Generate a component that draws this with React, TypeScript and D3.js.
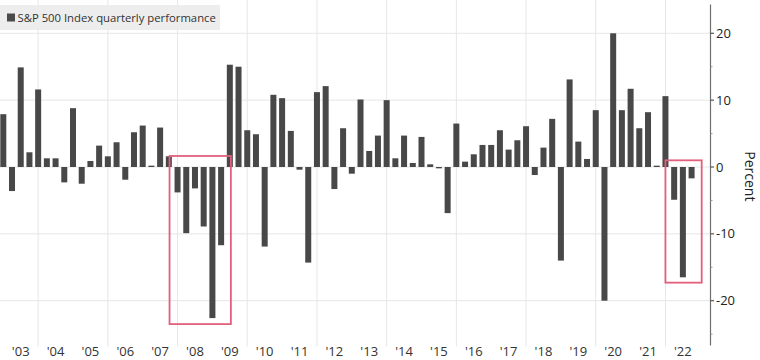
import React, { useEffect, useRef } from "react";
import * as d3 from "d3";

// Quarterly S&P 500 performance (%), from Q4 2002 through Q3 2022
const startYear = 2002;
const startQuarter = 4;
const quarterlyReturns: number[] = [
  7.9,
  -3.6, 14.9, 2.2, 11.6,
  1.3, 1.3, -2.3, 8.8,
  -2.5, 0.9, 3.2, 1.6,
  3.7, -1.9, 5.2, 6.2,
  0.2, 5.9, 1.6, -3.8,
  -9.9, -3.2, -8.9, -22.6,
  -11.7, 15.3, 15.0, 5.5,
  4.9, -11.9, 10.8, 10.3,
  5.4, -0.4, -14.3, 11.2,
  12.1, -3.3, 5.8, -1.0,
  10.1, 2.4, 4.7, 10.0,
  1.3, 4.7, 0.6, 4.5,
  0.4, -0.2, -6.9, 6.5,
  0.8, 1.9, 3.3, 3.3,
  5.5, 2.6, 4.0, 6.1,
  -1.2, 2.9, 7.2, -14.0,
  13.1, 3.8, 1.2, 8.5,
  -20.0, 20.0, 8.5, 11.7,
  5.8, 8.2, 0.2, 10.6,
  -4.9, -16.5, -1.7,
];
const yearLabels: string[] = [
  "'03", "'04", "'05", "'06", "'07", "'08", "'09", "'10", "'11", "'12",
  "'13", "'14", "'15", "'16", "'17", "'18", "'19", "'20", "'21", "'22",
];
const firstLabelYear = 2003;
const gridYears: number[] = [2004, 2006, 2008, 2010, 2012, 2014, 2016, 2018, 2020, 2022];
const majorTicks: number[] = [20, 10, 0, -10, -20];
const minorTicks: number[] = [15, 5, -5, -15, -25];
const legendLabel = "S&P 500 Index quarterly performance";
const axisTitle = "Percent";
// highlight boxes: [fromYear, toYear, topValue, bottomValue]
const highlightBoxes: [number, number, number, number][] = [
  [2007.77, 2009.53, 1.65, -23.5],
  [2022.0, 2023.04, 1.0, -17.3],
];

const W = 760;
const H = 360;
const FONT = "'Open Sans', 'Noto Sans', sans-serif";

export default function App() {
  const ref = useRef<SVGSVGElement>(null);

  useEffect(() => {
    const svg = d3.select(ref.current);
    svg.selectAll("*").remove();

    const x = d3.scaleLinear().domain([2003, 2023]).range([3.3, 700.3]);
    const y = d3.scaleLinear().domain([-20, 20]).range([300.7, 33.3]);
    const axisX = 710.5;
    const axisTop = y(24.3);
    const axisBottom = y(-26.7);

    const data = quarterlyReturns.map((v, i) => {
      const q = startQuarter - 1 + i;
      const yr = startYear + Math.floor(q / 4);
      const qn = (q % 4) + 1;
      return { t: yr + qn / 4, v };
    });

    // grid
    const grid = svg.append("g");
    grid
      .selectAll("line.v")
      .data(gridYears)
      .join("line")
      .attr("x1", (d) => x(d))
      .attr("x2", (d) => x(d))
      .attr("y1", 0)
      .attr("y2", axisBottom + 1)
      .attr("stroke", "#e6e6e6")
      .attr("stroke-width", 1);
    grid
      .selectAll("line.h")
      .data(majorTicks)
      .join("line")
      .attr("x1", 0)
      .attr("x2", axisX)
      .attr("y1", (d) => y(d))
      .attr("y2", (d) => y(d))
      .attr("stroke", "#e6e6e6")
      .attr("stroke-width", 1);

    // legend
    const lg = svg.append("g");
    lg.append("rect").attr("x", 0).attr("y", 5).attr("width", 220).attr("height", 25).attr("fill", "#ededed");
    lg.append("rect").attr("x", 7).attr("y", 13.5).attr("width", 8).attr("height", 8).attr("fill", "#4a4a4a");
    lg.append("text")
      .attr("x", 17.5)
      .attr("y", 22)
      .attr("font-family", FONT)
      .attr("font-size", 11.3)
      .attr("fill", "#333")
      .text(legendLabel);

    // bars
    const bw = 6;
    svg
      .append("g")
      .selectAll("rect")
      .data(data)
      .join("rect")
      .attr("x", (d) => x(d.t) - bw / 2)
      .attr("width", bw)
      .attr("y", (d) => Math.min(y(d.v), y(0)) - (Math.abs(y(d.v) - y(0)) < 1 ? 0.5 : 0))
      .attr("height", (d) => Math.max(1, Math.abs(y(d.v) - y(0))))
      .attr("fill", "#484848");

    // highlight boxes
    svg
      .append("g")
      .selectAll("rect")
      .data(highlightBoxes)
      .join("rect")
      .attr("x", (d) => x(d[0]))
      .attr("y", (d) => y(d[2]))
      .attr("width", (d) => x(d[1]) - x(d[0]))
      .attr("height", (d) => y(d[3]) - y(d[2]))
      .attr("fill", "none")
      .attr("stroke", "#e2607c")
      .attr("stroke-width", 1.8);

    // x labels
    svg
      .append("g")
      .selectAll("text")
      .data(yearLabels)
      .join("text")
      .attr("x", (_d, i) => x(firstLabelYear + i + 0.5))
      .attr("y", 356)
      .attr("text-anchor", "middle")
      .attr("font-family", FONT)
      .attr("font-size", 13)
      .attr("fill", "#333")
      .text((d) => d);

    // y axis
    const ax = svg.append("g");
    ax.append("line")
      .attr("x1", axisX)
      .attr("x2", axisX)
      .attr("y1", axisTop)
      .attr("y2", axisBottom)
      .attr("stroke", "#6e6e6e")
      .attr("stroke-width", 1.2);
    ax.selectAll("line.maj")
      .data(majorTicks)
      .join("line")
      .attr("x1", axisX)
      .attr("x2", axisX + 3.5)
      .attr("y1", (d) => y(d))
      .attr("y2", (d) => y(d))
      .attr("stroke", "#555")
      .attr("stroke-width", 1.2);
    ax.selectAll("line.min")
      .data(minorTicks)
      .join("line")
      .attr("class", "min")
      .attr("x1", axisX)
      .attr("x2", axisX + 2)
      .attr("y1", (d) => y(d))
      .attr("y2", (d) => y(d))
      .attr("stroke", "#999")
      .attr("stroke-width", 1);
    ax.selectAll("text")
      .data(majorTicks)
      .join("text")
      .attr("x", 716)
      .attr("y", (d) => y(d) + 4.5)
      .attr("font-family", FONT)
      .attr("font-size", 13)
      .attr("fill", "#222")
      .text((d) => String(d));
    ax.append("text")
      .attr("transform", `translate(744.5, ${y(-1.4)}) rotate(90)`)
      .attr("text-anchor", "middle")
      .attr("font-family", FONT)
      .attr("font-size", 14)
      .attr("fill", "#222")
      .text(axisTitle);
  }, []);

  return (
    <svg
      ref={ref}
      width={W}
      height={H}
      style={{ position: "absolute", left: 0, top: 0, background: "#fff" }}
    />
  );
}
